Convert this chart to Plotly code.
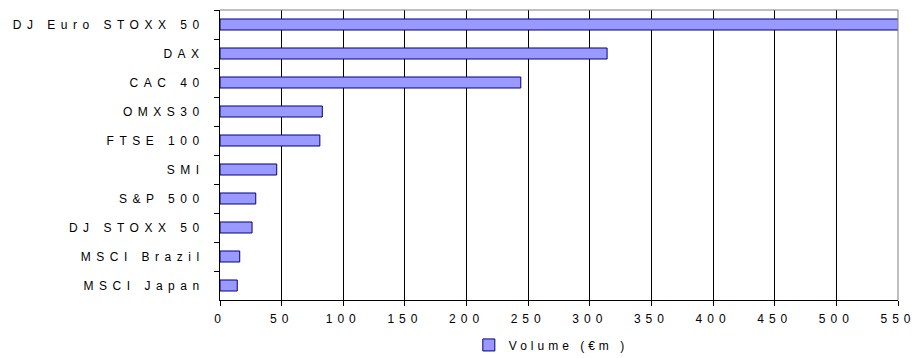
import plotly.graph_objects as go

# Index futures trading volume, EUR millions
indices = [
    "DJ Euro STOXX 50", "DAX", "CAC 40", "OMXS30", "FTSE 100",
    "SMI", "S&P 500", "DJ STOXX 50", "MSCI Brazil", "MSCI Japan",
]
volume = [560, 314, 244, 83, 81, 46, 29, 26, 16, 14]
x_ticks = list(range(0, 551, 50))
series_name = "Volume (€m )"

FONT = dict(family="Liberation Sans, Arial, sans-serif", size=12, color="#000000")

fig = go.Figure(
    go.Bar(
        x=volume,
        y=indices,
        orientation="h",
        name=series_name,
        width=0.38,
        marker=dict(color="#9999FF", line=dict(color="#000080", width=1)),
        showlegend=True,
    )
)

fig.update_layout(
    width=919,
    height=358,
    margin=dict(l=220, r=21, t=10, b=58, autoexpand=False),
    paper_bgcolor="white",
    plot_bgcolor="white",
    font=FONT,
    legend=dict(
        orientation="h",
        x=0.367,
        xanchor="left",
        y=-0.155,
        yanchor="middle",
        font=FONT,
        itemwidth=30,
        entrywidth=220,
        entrywidthmode="pixels",
        bgcolor="rgba(0,0,0,0)",
    ),
    xaxis=dict(
        range=[0, 550],
        tickvals=x_ticks,
        showgrid=True,
        gridcolor="#000000",
        gridwidth=1,
        showline=True,
        linecolor="#000000",
        linewidth=1,
        ticks="outside",
        ticklen=5,
        tickcolor="#000000",
        zeroline=False,
        fixedrange=True,
        ticklabelstandoff=3,
        automargin=False,
    ),
    yaxis=dict(
        autorange="reversed",
        showgrid=False,
        showline=True,
        linecolor="#000000",
        linewidth=1,
        ticks="outside",
        tickson="boundaries",
        ticklen=5,
        tickcolor="#000000",
        ticklabelstandoff=12,
        automargin=False,
    ),
    shapes=[
        # light frame on the top and right edges of the plot area
        dict(type="line", xref="paper", yref="paper", x0=0, x1=1, y0=1, y1=1,
             line=dict(color="#808080", width=1)),
        dict(type="line", xref="paper", yref="paper", x0=1, x1=1, y0=0, y1=1,
             line=dict(color="#808080", width=1)),
    ],
)

# spaced-out lettering for axis and legend text
spacing_css = (
    "var s=document.createElement('style');"
    "s.textContent='.ytick text{letter-spacing:5.5px}"
    ".xtick text{letter-spacing:5px}"
    ".legendtext{letter-spacing:4px}';"
    "document.head.appendChild(s);"
)

fig.write_html("out.html", post_script=spacing_css, config={"displayModeBar": False})
